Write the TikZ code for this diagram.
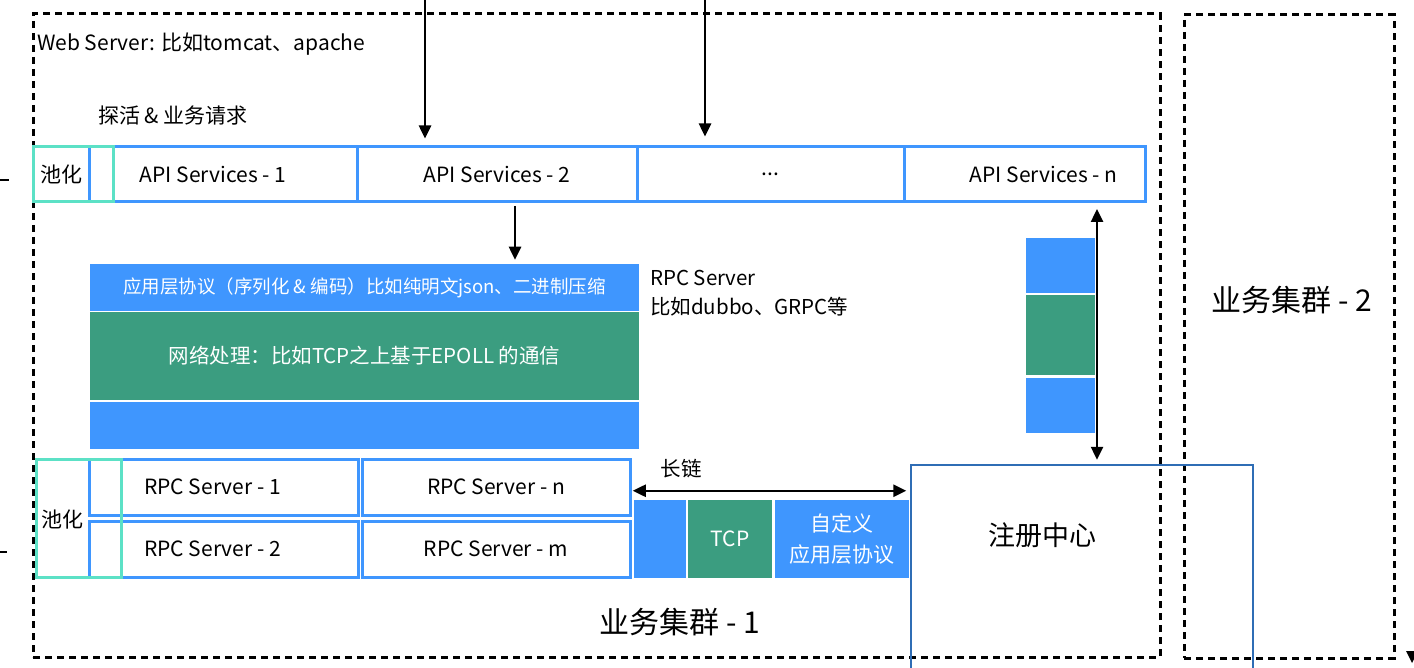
\documentclass[tikz,border=0pt]{standalone}
\usepackage{fontspec}
\setmainfont{Noto Sans CJK SC}
\usetikzlibrary{arrows.meta}
\definecolor{blueA}{HTML}{3F96FE}
\definecolor{tealA}{HTML}{5CE1C6}
\definecolor{greenA}{HTML}{3B9D80}
\definecolor{regblue}{HTML}{2F6DB5}

\begin{document}
\begin{tikzpicture}[x=1pt,y=-1pt]

\tikzset{cluster/.style = {draw, dash pattern=on 7pt off 5pt, line width=3pt, inner sep=0pt}}
\tikzset{svc/.style = {draw=blueA, line width=3pt, minimum height=55pt, inner sep=0pt, font=\fontsize{21}{25}\selectfont}}
\tikzset{pool/.style = {draw=tealA, line width=3pt, inner sep=0pt, font=\fontsize{21}{25}\selectfont}}
\tikzset{band/.style = {fill=blueA, draw=white, line width=1.5pt, inner sep=0pt, text=white}}
\tikzset{txt/.style = {inner sep=0pt, font=\fontsize{20.5}{29}\selectfont}}
\tikzset{arr/.style = {-{Triangle[length=13pt,width=12pt]}, line width=2.5pt}}
\tikzset{arr2/.style = {{Triangle[length=13pt,width=12pt]}-{Triangle[length=13pt,width=12pt]}, line width=2.5pt}}

\useasboundingbox (0,0) rectangle (1414,668);

%clusters
\node[cluster, minimum width=1127pt, minimum height=643pt] (c1) at (596.5,335.5) {};
\node[cluster, minimum width=210pt, minimum height=643pt] (c2) at (1289,336.5) {};
\node[txt, anchor=west, font=\fontsize{21}{24}\selectfont] (web) at (37,44) {Web Server: 比如tomcat、apache};
\node[txt, anchor=west, font=\fontsize{21}{24}\selectfont] (probe) at (98,116) {探活 \& 业务请求};
\node[txt, font=\fontsize{30}{36}\selectfont] (t1) at (680,622) {业务集群 - 1};
\node[txt, font=\fontsize{30}{36}\selectfont] (t2) at (1292,300) {业务集群 - 2};

%api services
\node[svc, minimum width=268pt] (api1) at (223,174.5) {\hspace{-20pt}API Services - 1};
\node[svc, minimum width=280pt] (api2) at (497,174.5) {API Services - 2};
\node[svc, minimum width=267pt] (apidots) at (770.5,174.5) {...};
\node[svc, minimum width=241pt] (apin) at (1024.5,174.5) {\hspace{38pt}API Services - n};
\node[pool, minimum width=80pt, minimum height=55pt] (pool1) at (73,174.5) {};
\node[txt, font=\fontsize{21}{25}\selectfont] (pool1t) at (61,174.5) {池化};

%rpc stack
\node[band, minimum width=551pt, minimum height=48pt, font=\fontsize{18.5}{22}\selectfont] (proto) at (364.5,287.5) {应用层协议（序列化 \& 编码）比如纯明文json、二进制压缩};
\node[band, fill=greenA, minimum width=551pt, minimum height=89pt, font=\fontsize{20.5}{24}\selectfont] (net) at (364.5,356) {网络处理：比如TCP之上基于EPOLL 的通信};
\node[band, minimum width=551pt, minimum height=48pt] (low) at (364.5,425.5) {};
\node[txt, anchor=west, align=left] (rpcnote) at (650,293.5) {RPC Server\\比如dubbo、GRPC等};

%rpc servers
\node[svc, minimum width=269pt, minimum height=56pt] (rpc1) at (223.5,487) {\hspace{-22pt}RPC Server - 1};
\node[svc, minimum width=269pt, minimum height=56pt] (rpc2) at (223.5,549) {\hspace{-22pt}RPC Server - 2};
\node[svc, minimum width=268pt, minimum height=56pt] (rpcn) at (496,487) {RPC Server - n};
\node[svc, minimum width=268pt, minimum height=56pt] (rpcm) at (496,549) {RPC Server - m};
\node[pool, minimum width=85pt, minimum height=118pt] (pool2) at (78.5,518) {};
\node[txt, font=\fontsize{21}{25}\selectfont] (pool2t) at (62,520) {池化};

%long link
\node[band, minimum width=53pt, minimum height=79pt] (lb1) at (660,539) {};
\node[band, fill=greenA, minimum width=85pt, minimum height=79pt, font=\fontsize{21}{25}\selectfont] (tcp) at (730,539) {TCP};
\node[band, minimum width=135pt, minimum height=79pt, align=center, font=\fontsize{21}{31}\selectfont] (app) at (842,539) {自定义\\应用层协议};
\node[txt] (longt) at (681,469) {长链};

%registry
\node[draw=regblue, line width=2.5pt, minimum width=342pt, minimum height=255pt, inner sep=0pt] (reg) at (1082,592.5) {};
\node[txt, font=\fontsize{27}{32}\selectfont] (regt) at (1042,535) {注册中心};
\node[band, minimum width=70pt, minimum height=56pt] (sb1) at (1060.5,265.5) {};
\node[band, fill=greenA, minimum width=70pt, minimum height=82pt] (sb2) at (1060.5,335) {};
\node[band, minimum width=70pt, minimum height=56pt] (sb3) at (1060.5,405.5) {};

%arrows
\coordinate (in1) at (425,-5);
\coordinate (in2) at (705,-5);
\coordinate (d1) at (515,202);
\coordinate (r1) at (1097,202);
\draw[arr, shorten >=7pt] (in1) -- (in1 |- api2.north);
\draw[arr, shorten >=9pt] (in2) -- (in2 |- apidots.north);
\draw[arr, shorten <=4pt, shorten >=3pt] (d1) -- (d1 |- proto.north);
\draw[arr2, shorten <=7pt, shorten >=4pt] (r1) -- (r1 |- reg.north);
\draw[arr2] ([yshift=8pt]lb1.north west) -- ([yshift=8pt,xshift=-4pt]app.north east);

%edge marks
\coordinate (m1) at (-2,180);
\coordinate (m2) at (-2,552);
\draw[line width=2pt] (m1) -- ++(11,0);
\draw[line width=2pt] (m2) -- ++(9,0);
\fill (1406,651) -- (1418,651) -- (1412,663) -- cycle;

\end{tikzpicture}
\end{document}
